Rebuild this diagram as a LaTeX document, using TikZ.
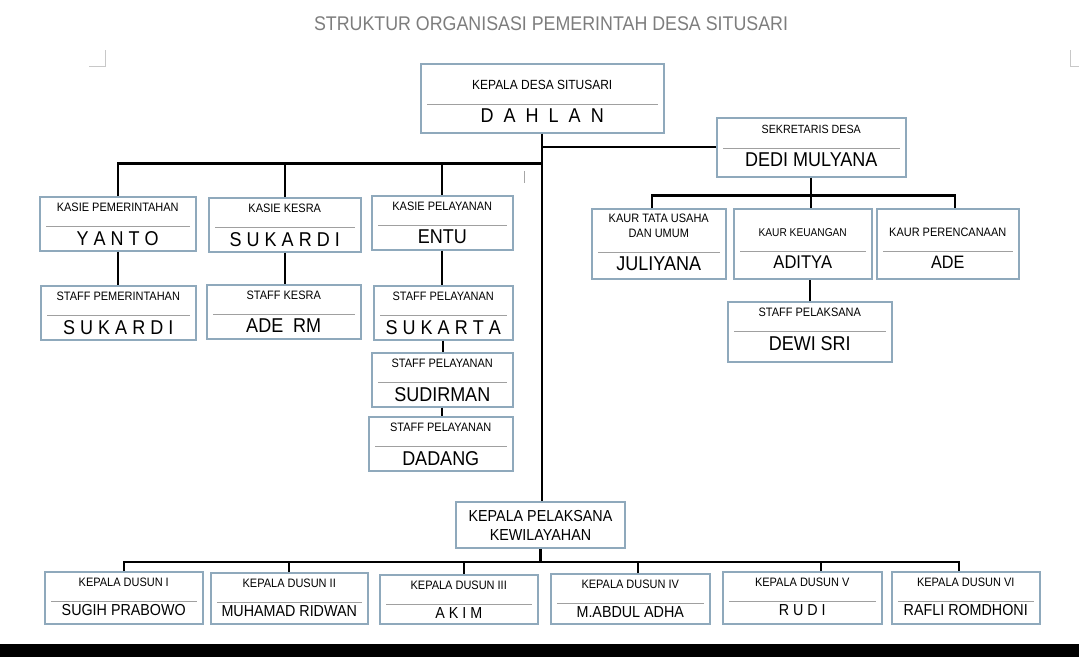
\documentclass[tikz,border=0pt]{standalone}
\usepackage{fontspec}
\setmainfont{Liberation Sans}[FakeStretch=0.9]
\usepackage{tikz}
\usetikzlibrary{calc}
\definecolor{unitline}{HTML}{8FA9BC}
\definecolor{rulegray}{HTML}{A0A0A0}
\definecolor{titlegray}{HTML}{7D7D7D}
\definecolor{cropgray}{HTML}{C8C8C8}
\newcommand{\fsz}[1]{\fontsize{#1}{#1}\selectfont}
\tikzset{
  unit/.style={draw=unitline,line width=1.5pt,fill=white,inner sep=0pt},
  post/.style={anchor=south,inner sep=0pt,align=center,font=\fontsize{12.2}{15}\selectfont},
  who/.style={anchor=north,inner sep=0pt,font=\fontsize{20}{22}\selectfont},
  sepline/.style={draw=rulegray,line width=.8pt},
  link/.style={draw=black,line width=2.4pt}
}
% box with post on top, thin rule, person below
\newcommand{\orgunit}[8]{%
  \node[unit,anchor=north west,minimum width=#4pt,minimum height=#5pt] (#1) at (#2,#3) {};
  \coordinate (#1-s) at ([yshift=-#6pt]#1.north);
  \draw[sepline] ($(#1.west |- #1-s)+(7,0)$) -- ($(#1.east |- #1-s)+(-7,0)$);
  \node[post] (#1-p) at ([yshift=14pt]#1-s) {#7};
  \node[who] (#1-w) at ([yshift=-5pt]#1-s) {#8};
}

\begin{document}
\begin{tikzpicture}[x=1pt,y=-1pt]
\useasboundingbox (0,0) rectangle (1079,657);
\fill[black] (0,644) rectangle (1079,657);
\draw[cropgray,line width=1pt] (89,66) -- (105,66) -- (105,50);
\draw[cropgray,line width=1pt] (1079,66) -- (1070,66) -- (1070,50);
\draw[gray!70,line width=.8pt] (524,171) -- (524,183);

\node[font=\fontsize{19.8}{22}\selectfont,text=titlegray] (title) at (551,24)
{STRUKTUR ORGANISASI PEMERINTAH DESA SITUSARI};

% kepala desa and sekretaris
\orgunit{kades}{420}{63}{243}{69}{41}{\fsz{13.3}KEPALA DESA SITUSARI}{D~~A~~H~~L~~A~~N}
\orgunit{sek}{716}{117}{189}{59}{31}{\fsz{11.9}SEKRETARIS DESA}{DEDI MULYANA}

% kasie and staff
\orgunit{kpem}{39}{196}{156}{54}{30}{KASIE PEMERINTAHAN}{Y A N T O}
\orgunit{kkes}{208}{197}{152}{54}{30}{KASIE KESRA}{S U K A R D I}
\orgunit{kpel}{371}{195}{141}{54}{30}{KASIE PELAYANAN}{ENTU}
\orgunit{spem}{40}{285}{155}{54}{30}{STAFF PEMERINTAHAN}{S U K A R D I}
\orgunit{skes}{206}{284}{154}{54}{30}{STAFF KESRA}{ADE~~RM}
\orgunit{spel}{373}{285}{139}{54}{30}{STAFF PELAYANAN}{S U K A R T A}
\orgunit{spel2}{371}{352}{141}{54}{30}{STAFF PELAYANAN}{SUDIRMAN}
\orgunit{spel3}{368}{416}{144}{54}{30}{STAFF PELAYANAN}{DADANG}

% kaur
\orgunit{ktu}{591}{208}{134}{70}{44}{KAUR TATA USAHA\\DAN UMUM}{JULIYANA}
\orgunit{keu}{733}{208}{138}{70}{43}{\fsz{11.3}KAUR KEUANGAN}{\fsz{18.4}ADITYA}
\orgunit{kper}{876}{208}{142}{70}{43}{KAUR PERENCANAAN}{\fsz{18}ADE}
\orgunit{spl}{727}{301}{164}{60}{30}{STAFF PELAKSANA}{DEWI SRI}

\node[unit,minimum width=169pt,minimum height=46pt,align=center,
  font=\fontsize{15.9}{19}\selectfont] (kpk) at (540.5,525)
{KEPALA PELAKSANA\\KEWILAYAHAN};

% dusun
\begin{scope}[who/.style={anchor=north,inner sep=0pt,yshift=2pt,font=\fontsize{15.9}{18}\selectfont}]
\orgunit{d1}{44}{571}{158}{52}{30}{KEPALA DUSUN I}{SUGIH PRABOWO}
\orgunit{d2}{210}{572}{157}{51}{30}{KEPALA DUSUN II}{MUHAMAD RIDWAN}
\orgunit{d3}{379}{574}{158}{49}{30}{KEPALA DUSUN III}{A K I M}
\orgunit{d4}{550}{573}{159}{50}{30}{KEPALA DUSUN IV}{M.ABDUL ADHA}
\orgunit{d5}{722}{571}{159}{52}{30}{KEPALA DUSUN V}{R U D I}
\orgunit{d6}{891}{571}{148}{52}{30}{KEPALA DUSUN VI}{RAFLI ROMDHONI}
\end{scope}

% connectors
\draw[link] (kades.south) -- (kades.south |- kpk.north);
\coordinate (lbus) at ([yshift=-30pt]kades.south);
\draw[link] (kpem.north) |- (lbus);
\draw[link] (kkes.north) -- (kkes.north |- lbus);
\draw[link] (kpel.north) -- (kpel.north |- lbus);
\draw[link] (sek.west) -- (sek.west -| kades.south);
\coordinate (rbus) at ([yshift=-18pt]sek.south);
\draw[link] (sek.south) -- (sek.south |- keu.north);
\draw[link] ([xshift=-7pt]ktu.north) |- (rbus) -| ([xshift=7pt]kper.north);
\draw[link] (spl.north) -- (spl.north |- keu.south);
\draw[link] (kpem.south) -- (kpem.south |- spem.north);
\draw[link] (kkes.south) -- (kkes.south |- skes.north);
\draw[link] (kpel.south) -- (kpel.south |- spel.north);
\draw[link] (spel.south) -- (spel.south |- spel2.north);
\draw[link] (spel2.south) -- (spel2.south |- spel3.north);
\coordinate (dbus) at ([yshift=-13pt]kpk.south);
\draw[link] (kpk.south) -- (dbus);
\draw[link] (d1.north) |- (dbus) -| ([xshift=-7pt]d6.north);
\draw[link] (d2.north) |- (dbus);
\draw[link] ([xshift=5pt]d3.north) |- (dbus);
\draw[link] ([xshift=8pt]d4.north) |- (dbus);
\draw[link] ([xshift=19pt]d5.north) |- (dbus);
\end{tikzpicture}
\end{document}
